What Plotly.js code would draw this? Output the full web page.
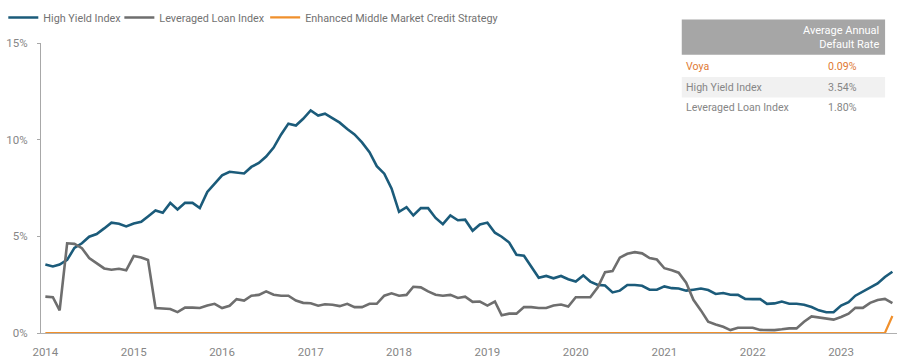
<!DOCTYPE html>
<html>
<head>
<meta charset="utf-8">
<script src="https://cdn.plot.ly/plotly-3.0.1.min.js"></script>
<style>html,body{margin:0;padding:0;background:#fff;}#chart{width:900px;height:360px;}</style>
</head>
<body>
<div id="chart"></div>
<script>
// Monthly default rates (%), Jan 2014 – Aug 2023
const startYear = 2014, startMonth = 1;
const highYield = [
 3.54,3.44,3.54,3.78,4.40,4.64,4.98,5.12,5.41,5.71,5.65,5.51,
 5.66,5.75,6.03,6.34,6.22,6.73,6.39,6.73,6.73,6.46,7.30,7.74,
 8.15,8.34,8.30,8.25,8.59,8.80,9.13,9.59,10.27,10.83,10.73,11.08,
 11.51,11.25,11.34,11.10,10.88,10.55,10.27,9.86,9.35,8.63,8.24,7.48,
 6.27,6.51,6.08,6.46,6.46,5.95,5.63,6.08,5.83,5.86,5.29,5.61,
 5.71,5.19,4.98,4.68,4.05,4.00,3.46,2.86,2.95,2.83,2.95,2.78,
 2.66,2.98,2.66,2.49,2.46,2.10,2.19,2.48,2.48,2.44,2.24,2.24,
 2.41,2.32,2.30,2.19,2.24,2.30,2.22,2.02,2.07,1.98,1.97,1.76,
 1.75,1.75,1.51,1.53,1.63,1.51,1.51,1.46,1.34,1.17,1.07,1.07,
 1.42,1.59,1.93,2.15,2.36,2.56,2.90,3.17
];
const leveragedLoan = [
 1.88,1.85,1.17,4.64,4.61,4.39,3.88,3.59,3.34,3.27,3.32,3.24,
 3.98,3.91,3.78,1.29,1.27,1.24,1.08,1.31,1.31,1.29,1.42,1.51,
 1.29,1.41,1.75,1.68,1.93,1.97,2.15,1.98,1.93,1.93,1.68,1.56,
 1.54,1.41,1.49,1.46,1.39,1.51,1.34,1.34,1.51,1.51,1.93,2.05,
 1.93,1.97,2.39,2.36,2.15,1.98,1.93,1.97,1.81,1.88,1.61,1.63,
 1.42,1.63,0.92,1.00,1.00,1.34,1.34,1.29,1.29,1.42,1.47,1.37,
 1.85,1.85,1.85,2.36,3.15,3.20,3.90,4.10,4.18,4.12,3.88,3.80,
 3.35,3.24,3.12,2.60,1.72,1.17,0.58,0.44,0.32,0.15,0.27,0.27,
 0.27,0.16,0.15,0.15,0.19,0.24,0.24,0.58,0.86,0.80,0.75,0.69,
 0.83,1.00,1.30,1.30,1.56,1.71,1.76,1.54
];
const enhancedMM = highYield.map(() => 0);
enhancedMM[enhancedMM.length - 1] = 0.88;

const seriesNames = ["High Yield Index", "Leveraged Loan Index", "Enhanced Middle Market Credit Strategy"];
const tableHeader = "Average Annual<br>Default Rate";
const tableLabels = ["Voya", "High Yield Index", "Leveraged Loan Index"];
const tableValues = ["0.09%", "3.54%", "1.80%"];
const yTickVals = [0, 5, 10, 15];
const yTickText = ["0%", "5%", "10%", "15%"];

const dates = highYield.map((_, i) => {
  const m = startMonth - 1 + i;
  const y = startYear + Math.floor(m / 12);
  const mm = (m % 12) + 1;
  return y + "-" + String(mm).padStart(2, "0") + "-01";
});

const FONT = "Roboto, 'Open Sans', sans-serif";
const TXT = "#868686";
const BLUE = "#1b5b7a", GRAY = "#6e6e6e", ORANGE = "#f0902c", VOYA = "#e07a34";

const traces = [
  {x: dates, y: highYield, name: seriesNames[0], type: "scatter", mode: "lines",
   line: {color: BLUE, width: 2.6}, cliponaxis: false, legend: "legend"},
  {x: dates, y: leveragedLoan, name: seriesNames[1], type: "scatter", mode: "lines",
   line: {color: GRAY, width: 2.6}, cliponaxis: false, legend: "legend2"},
  {x: dates, y: enhancedMM, name: seriesNames[2], type: "scatter", mode: "lines",
   line: {color: ORANGE, width: 2.2}, cliponaxis: false, legend: "legend3"}
];

const L = 34, R = 3, T = 38, B = 27, W = 900, H = 360;
const PW = W - L - R, PH = H - T - B;
const px = v => (v - L) / PW;
const py = v => (H - B - v) / PH;

const shapes = [
  {type: "rect", xref: "paper", yref: "paper", x0: px(680), x1: px(885), y0: py(50), y1: py(14),
   fillcolor: "#a6a6a6", line: {width: 0}, layer: "above"},
  {type: "rect", xref: "paper", yref: "paper", x0: px(680), x1: px(885), y0: py(93.5), y1: py(72.5),
   fillcolor: "#f1f1f1", line: {width: 0}, layer: "below"}
];
const rowY = [62, 83, 104];
const annotations = [
  {xref: "paper", yref: "paper", x: px(881), y: py(32.5), xanchor: "right", yanchor: "middle",
   align: "right", text: tableHeader, showarrow: false, font: {family: FONT, size: 11, color: "#ffffff"}}
];
tableLabels.forEach((lab, i) => {
  const c = i === 0 ? VOYA : TXT;
  annotations.push({xref: "paper", yref: "paper", x: px(682), y: py(rowY[i]), xanchor: "left", yanchor: "middle",
    text: lab, showarrow: false, font: {family: FONT, size: 10.6, color: c}});
  annotations.push({xref: "paper", yref: "paper", x: px(859), y: py(rowY[i]), xanchor: "right", yanchor: "middle",
    text: tableValues[i], showarrow: false, font: {family: FONT, size: 10.6, color: c}});
});

const legendBase = textX => ({orientation: "h", x: px(textX - 40), xanchor: "left", y: py(12), yanchor: "middle",
  font: {family: FONT, size: 10.8, color: "#727272"}, bgcolor: "rgba(0,0,0,0)", itemwidth: 30});

const layout = {
  width: W, height: H,
  margin: {l: L, r: R, t: T, b: B, pad: 0},
  paper_bgcolor: "#ffffff", plot_bgcolor: "#ffffff",
  font: {family: FONT, size: 11.5, color: TXT},
  showlegend: true,
  legend: legendBase(36),
  legend2: legendBase(153),
  legend3: legendBase(300),
  xaxis: {type: "date", range: ["2013-12-14", "2023-08-20"], showgrid: false, zeroline: false,
    showline: true, linecolor: "#b0b0b0", linewidth: 1, ticks: "", dtick: "M12", tick0: "2014-01-01",
    tickformat: "%Y", ticklabelstandoff: 8, tickfont: {family: FONT, size: 11.5, color: TXT}, fixedrange: true},
  yaxis: {range: [0, 15], showgrid: false, zeroline: false, showline: true, linecolor: "#a8a8a8",
    linewidth: 1, ticks: "outside", ticklen: 3, tickcolor: "#a8a8a8", tickvals: yTickVals, ticktext: yTickText,
    ticklabelstandoff: 7, tickfont: {family: FONT, size: 11.5, color: TXT}, fixedrange: true},
  shapes: shapes,
  annotations: annotations
};

Plotly.newPlot("chart", traces, layout, {displayModeBar: false, staticPlot: true});
</script>
</body>
</html>
